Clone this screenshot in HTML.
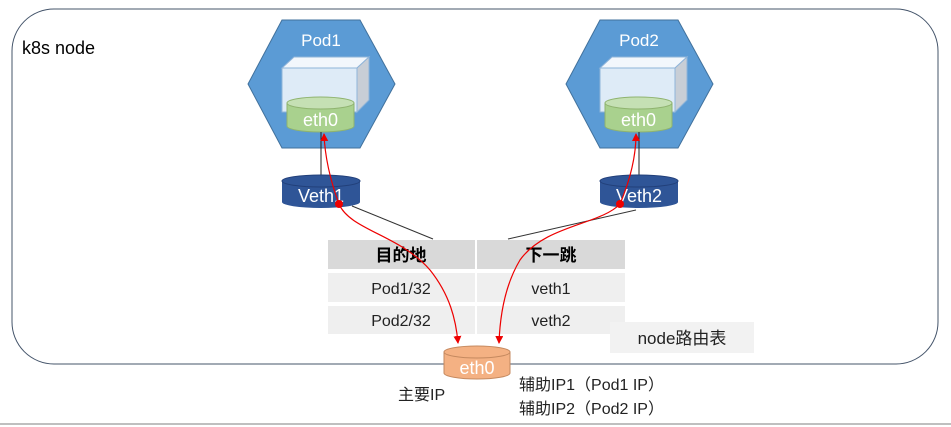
<!DOCTYPE html>
<html><head><meta charset="utf-8"><style>
body{margin:0;background:#fff;}
svg{display:block;font-family:"Liberation Sans","Noto Sans CJK SC",sans-serif;}
</style></head><body>
<svg width="951" height="427" viewBox="0 0 951 427" xmlns="http://www.w3.org/2000/svg">
<defs>
<marker id="ar" markerWidth="8" markerHeight="8" refX="7" refY="4" orient="auto" markerUnits="userSpaceOnUse">
<path d="M0,0 L8,4 L0,8 z" fill="#e00"/></marker>
</defs>
<rect x="12" y="9" width="926" height="355" rx="42" fill="#fff" stroke="#44546a" stroke-width="1"/>
<line x1="0" y1="424" x2="951" y2="424" stroke="#bfbfbf" stroke-width="2"/>
<text x="22" y="54" font-size="18" fill="#000">k8s node</text>

<polygon points="282,20 360,20 395,84 360,148 282,148 248,84" fill="#5b9bd5" stroke="#41719c"/>
<text x="321" y="46" font-size="17" fill="#fff" text-anchor="middle">Pod1</text>
<polygon points="282,68 294,57 369,57 357,68" fill="#f2f7fc" stroke="#8fb4d9"/>
<polygon points="357,68 369,57 369,100 357,112" fill="#c8ced6" stroke="#8fb4d9"/>
<rect x="282" y="68" width="75" height="44" fill="#deebf7" stroke="#8fb4d9"/>
<path d="M287,103 L287,126 A33.5,6 0 0 0 354,126 L354,103" fill="#a9d18e" stroke="#8fb36f"/>
<ellipse cx="320.5" cy="103" rx="33.5" ry="6" fill="#c5e0b4" stroke="#8fb36f"/>
<text x="320.5" y="126" font-size="18" fill="#fff" text-anchor="middle">eth0</text>

<polygon points="600,20 678,20 713,84 678,148 600,148 566,84" fill="#5b9bd5" stroke="#41719c"/>
<text x="639" y="46" font-size="17" fill="#fff" text-anchor="middle">Pod2</text>
<polygon points="600,68 612,57 687,57 675,68" fill="#f2f7fc" stroke="#8fb4d9"/>
<polygon points="675,68 687,57 687,100 675,112" fill="#c8ced6" stroke="#8fb4d9"/>
<rect x="600" y="68" width="75" height="44" fill="#deebf7" stroke="#8fb4d9"/>
<path d="M605,103 L605,126 A33.5,6 0 0 0 672,126 L672,103" fill="#a9d18e" stroke="#8fb36f"/>
<ellipse cx="638.5" cy="103" rx="33.5" ry="6" fill="#c5e0b4" stroke="#8fb36f"/>
<text x="638.5" y="126" font-size="18" fill="#fff" text-anchor="middle">eth0</text>

<line x1="321" y1="132" x2="321" y2="176" stroke="#222"/>
<line x1="639" y1="132" x2="639" y2="176" stroke="#222"/>
<path d="M282,181 L282,202 A39,6 0 0 0 360,202 L360,181" fill="#2f5597"/>
<ellipse cx="321" cy="181" rx="39" ry="6" fill="#2f5597" stroke="#22407a"/>
<text x="321" y="202" font-size="18" fill="#fff" text-anchor="middle">Veth1</text>
<path d="M600,181 L600,202 A39,6 0 0 0 678,202 L678,181" fill="#2f5597"/>
<ellipse cx="639" cy="181" rx="39" ry="6" fill="#2f5597" stroke="#22407a"/>
<text x="639" y="202" font-size="18" fill="#fff" text-anchor="middle">Veth2</text>

<line x1="352" y1="206" x2="433" y2="239" stroke="#333"/>
<line x1="636" y1="210" x2="508" y2="239" stroke="#333"/>

<rect x="328" y="240" width="147" height="29" fill="#d9d9d9"/>
<rect x="477" y="240" width="148" height="29" fill="#d9d9d9"/>
<rect x="328" y="273" width="147" height="29" fill="#efefef"/>
<rect x="477" y="273" width="148" height="29" fill="#efefef"/>
<rect x="328" y="306" width="147" height="28" fill="#efefef"/>
<rect x="477" y="306" width="148" height="28" fill="#efefef"/>
<text x="401" y="261" font-size="17" font-weight="bold" text-anchor="middle">目的地</text>
<text x="551" y="261" font-size="17" font-weight="bold" text-anchor="middle">下一跳</text>
<text x="401" y="294" font-size="16" text-anchor="middle" fill="#222">Pod1/32</text>
<text x="551" y="294" font-size="16" text-anchor="middle" fill="#222">veth1</text>
<text x="401" y="326" font-size="16" text-anchor="middle" fill="#222">Pod2/32</text>
<text x="551" y="326" font-size="16" text-anchor="middle" fill="#222">veth2</text>
<rect x="610" y="322" width="144" height="31" fill="#f2f2f2"/>
<text x="682" y="344" font-size="17" text-anchor="middle" fill="#222">node路由表</text>

<path d="M444,352 L444,373 A33,6 0 0 0 510,373 L510,352" fill="#f4b183" stroke="#c5895f"/>
<ellipse cx="477" cy="352" rx="33" ry="6" fill="#f4b183" stroke="#c5895f"/>
<text x="477" y="374" font-size="18" fill="#fff" text-anchor="middle">eth0</text>
<text x="398" y="400" font-size="16" fill="#222">主要IP</text>
<text x="519" y="390" font-size="16" fill="#222">辅助IP1（Pod1 IP）</text>
<text x="519" y="414" font-size="16" fill="#222">辅助IP2（Pod2 IP）</text>

<path d="M339,204 C332,185 325,160 324,134" fill="none" stroke="#e00" stroke-width="1.2" marker-end="url(#ar)"/>
<path d="M339,204 C350,230 400,235 430,270 C450,295 456,320 458,343" fill="none" stroke="#e00" stroke-width="1.2" marker-end="url(#ar)"/>
<circle cx="339" cy="204" r="4" fill="#e00"/>
<path d="M620,204 C628,185 636,160 636,134" fill="none" stroke="#e00" stroke-width="1.2" marker-end="url(#ar)"/>
<path d="M620,204 C600,225 545,225 520,260 C505,285 500,315 499,343" fill="none" stroke="#e00" stroke-width="1.2" marker-end="url(#ar)"/>
<circle cx="620" cy="204" r="4" fill="#e00"/>
</svg>
</body></html>
